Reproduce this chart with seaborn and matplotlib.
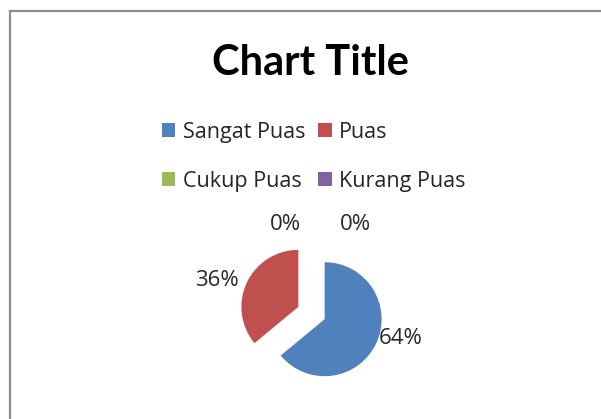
import matplotlib
matplotlib.use("Agg")
import matplotlib.pyplot as plt
import seaborn as sns
from matplotlib.patches import Rectangle, Patch

sns.set_theme(style="white")
plt.rcParams['font.family'] = ['Open Sans', 'DejaVu Sans']

categories = ["Sangat Puas", "Puas", "Cukup Puas", "Kurang Puas"]
values = [64, 36, 0, 0]
pct_labels = ["64%", "36%", "0%", "0%"]
colors = ["#4F81BD", "#C0504D", "#9BBB59", "#8064A2"]

W, H = 601, 419
fig = plt.figure(figsize=(W / 100, H / 100), dpi=100)
fig.patch.set_facecolor("white")

# outer chart border (left and top visible)
fig.patches.append(Rectangle((10 / W, -0.1), 1.2, (H - 11) / H + 0.1, transform=fig.transFigure,
                             fill=False, edgecolor="#8c8c8c", linewidth=1.6))

ax = fig.add_axes([0, 0, 1, 1])
ax.axis("off")

cx, cy, r = 311.5, H - 313, 57
wedges, _ = ax.pie(values, colors=colors, startangle=90, counterclock=False,
                   center=(cx, cy), radius=r, explode=[14.5, 14.5, 0, 0],
                   wedgeprops=dict(linewidth=0))
ax.set_xlim(0, W)
ax.set_ylim(0, H)
ax.set_aspect("equal")

label_pos = [(379, H - 338, "left"), (239, H - 280, "right"), (285, H - 224, "center"), (355, H - 224, "center")]
for (x, y, ha), t in zip(label_pos, pct_labels):
    ax.text(x, y, t, ha=ha, va="center", fontsize=16, color="#262626")

fig.text(311 / W, 1 - 63 / H, "Chart Title", ha="center", va="center", fontsize=30,
         fontweight="bold", color="black", family=["Lato", "DejaVu Sans"])

order = [0, 2, 1, 3]
handles = [Patch(facecolor=colors[i], edgecolor="none") for i in order]
labels = [categories[i] for i in order]
fig.legend(handles, labels, ncol=2, loc="upper left",
           bbox_to_anchor=(162 / W, 1 - 122 / H), frameon=False, fontsize=15.5,
           borderaxespad=0, borderpad=0,
           handlelength=0.62, handleheight=0.62, handletextpad=0.35,
           columnspacing=0.6, labelspacing=1.3, labelcolor="#262626")

fig.savefig("out.png", dpi=100, facecolor="white")
